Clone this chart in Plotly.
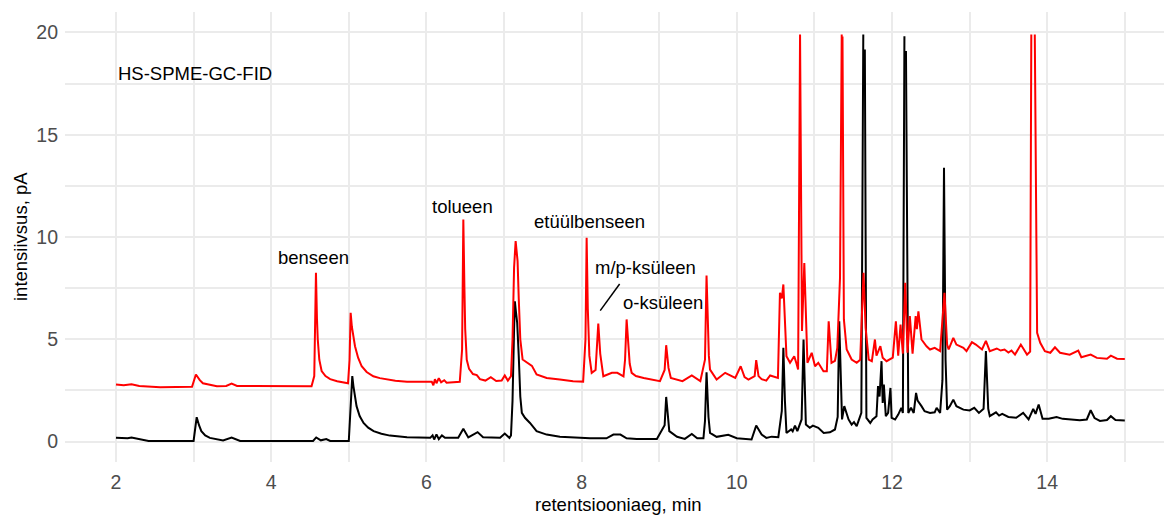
import plotly.graph_objects as go

# retention time (min) and intensity (pA) — red sample (upper trace)
red_x = [2.00, 2.10, 2.20, 2.30, 2.57, 2.80, 2.98, 3.03, 3.08, 3.12, 3.30, 3.42, 3.49, 3.56, 4.00, 4.52,
         4.555, 4.577, 4.59, 4.60, 4.62, 4.65, 4.70, 4.76, 4.85, 4.99, 5.01, 5.024, 5.04, 5.06, 5.08, 5.12,
         5.166, 5.23, 5.316, 5.40, 5.49, 5.60, 5.75,
         6.07, 6.09, 6.11, 6.13, 6.16, 6.19, 6.23, 6.26, 6.43, 6.46, 6.476, 6.49, 6.50, 6.52, 6.55, 6.60,
         6.65, 6.69, 6.76, 6.83, 6.90, 6.97, 7.01, 7.05, 7.09, 7.11, 7.13, 7.15, 7.165, 7.175, 7.19, 7.21,
         7.24, 7.31, 7.36, 7.42, 7.55, 7.72, 7.89, 8.02, 8.05, 8.065, 8.08, 8.10, 8.13, 8.18, 8.215, 8.24,
         8.28, 8.39, 8.46, 8.54, 8.56, 8.58, 8.60, 8.62, 8.645, 8.70, 8.80, 9.01, 9.07, 9.09, 9.12, 9.15,
         9.30, 9.42, 9.53, 9.59, 9.61, 9.625, 9.64, 9.655, 9.74, 9.85, 9.98, 10.05, 10.10, 10.15, 10.23,
         10.25, 10.28, 10.32, 10.38, 10.43, 10.53,
         10.556, 10.58, 10.60, 10.62, 10.64, 10.686, 10.74, 10.77, 10.79, 10.815, 10.84, 10.87, 10.91,
         10.965, 11.008, 11.05, 11.117, 11.16, 11.184, 11.22, 11.265, 11.295, 11.33, 11.352, None, 11.362,
         11.38, 11.416, 11.48, 11.545, 11.59, 11.633, 11.66, 11.70, 11.74, 11.78, 11.80, 11.85, 11.88,
         11.93, 12.01, 12.05, 12.08, 12.11, 12.14, 12.17, 12.20, 12.23, 12.265, 12.305, 12.32, 12.34,
         12.38, 12.445, 12.49, 12.55, 12.62, 12.676, 12.71, 12.73, 12.79, 12.83, 12.92, 12.96, 13.03,
         13.08, 13.16, 13.21, 13.26, 13.35, 13.40, 13.45, 13.50, 13.54, 13.585, 13.66, 13.74, 13.78,
         13.795, None, 13.84, 13.87, 13.91, 13.97, 14.04, 14.10, 14.165, 14.29, 14.40, 14.44, 14.56,
         14.64, 14.77, 14.82, 14.90, 15.00]
red_y = [2.79, 2.75, 2.80, 2.72, 2.66, 2.66, 2.68, 3.28, 3.00, 2.85, 2.70, 2.72, 2.83, 2.72, 2.70, 2.70,
         3.20, 8.25, 6.00, 5.00, 4.00, 3.45, 3.20, 3.05, 2.95, 2.85, 4.00, 6.29, 5.60, 5.00, 4.66, 4.10,
         3.68, 3.40, 3.19, 3.10, 3.03, 2.97, 2.92,
         2.92, 2.75, 3.05, 2.85, 3.10, 2.90, 3.00, 2.88, 2.92, 4.50, 10.86, 7.50, 5.50, 4.00, 3.55, 3.30,
         3.25, 3.05, 2.98, 3.15, 2.96, 2.98, 3.23, 2.98, 3.20, 5.00, 8.50, 9.80, 9.20, 8.82, 7.00, 5.00,
         4.01, 3.85, 3.70, 3.28, 3.11, 3.03, 2.95, 2.93, 5.00, 9.96, 6.50, 4.20, 3.36, 3.50, 5.77, 4.30,
         3.19, 3.36, 3.36, 3.19, 4.00, 5.97, 4.80, 3.80, 3.36, 3.20, 3.11, 2.95, 3.50, 4.71, 3.60, 3.11,
         2.95, 3.23, 2.95, 4.00, 8.12, 5.80, 4.20, 3.52, 3.03, 3.36, 3.11, 3.68, 3.15, 3.03, 3.20,
         3.98, 3.20, 3.05, 2.98, 3.23, 3.11,
         7.27, 7.00, 7.68, 6.00, 4.17, 3.85, 4.17, 3.80, 3.52, 19.90, 5.40, 8.73, 3.85,
         4.34, 3.68, 3.85, 3.44, 3.44, 5.88, 3.85, 3.95, 4.58, 8.00, 19.90, None, 19.80,
         5.97, 4.50, 4.01, 3.85, 4.00, 8.25, 5.56, 4.01, 3.93, 4.99, 4.20, 4.66, 4.10,
         3.93, 4.10, 5.88, 4.20, 5.72, 4.30, 7.76, 4.34, 6.13, 4.30, 6.13, 5.50, 6.37,
         4.99, 4.66, 4.50, 4.58, 4.42, 7.27, 4.74, 4.50, 5.07, 4.74, 4.58, 4.42, 4.86,
         4.74, 4.50, 4.92, 4.42, 4.55, 4.45, 4.50, 4.35, 4.45, 4.25, 4.74, 4.25, 4.40,
         19.90, None, 19.90, 5.32, 4.83, 4.42, 4.34, 4.61, 4.34, 4.25, 4.45, 4.12, 4.25,
         4.09, 4.05, 4.20, 4.05, 4.04]

# black sample (lower trace)
black_x = [2.00, 2.15, 2.20, 2.31, 2.42, 3.00, 3.04, 3.07, 3.10, 3.15, 3.21, 3.38, 3.49, 3.60, 4.54, 4.58,
           4.64, 4.71, 4.76, 5.00, 5.02, 5.045, 5.06, 5.08, 5.10, 5.14, 5.19, 5.25, 5.32, 5.42, 5.53, 5.75,
           6.05, 6.08, 6.10, 6.13, 6.16, 6.20, 6.24, 6.41, 6.476, 6.54, 6.66, 6.73, 6.95, 7.01, 7.07, 7.09,
           7.11, 7.13, 7.14, 7.155, 7.17, 7.19, 7.21, 7.23, 7.27, 7.335, 7.42, 7.55, 7.72, 8.11, 8.32, 8.41,
           8.50, 8.58, 8.71, 8.97, 9.07, 9.09, 9.11, 9.13, 9.23, 9.33, 9.42, 9.49, 9.57, 9.59, 9.61, 9.635,
           9.655, 9.74, 9.89, 10.00, 10.19, 10.25, 10.32, 10.38,
           10.45, 10.535, 10.58, 10.60, 10.62, 10.64, 10.70, 10.72, 10.75, 10.78, 10.835, 10.86, 10.89,
           10.94, 10.98, 11.05, 11.12, 11.20, 11.265, 11.30, 11.32, 11.356, 11.385, 11.44, 11.48, 11.51,
           11.545, 11.57, 11.605, 11.630, None, 11.65, 11.67, 11.72, 11.75, 11.80, 11.82, 11.84, 11.865,
           11.88, 11.895, 11.92, 11.95, 11.98, 11.995, 12.04, 12.08, 12.12, 12.14, 12.16, None, 12.18,
           12.21, 12.245, 12.28, 12.31, 12.33, 12.38, 12.42, 12.49, 12.55, 12.575, 12.62, 12.65, 12.67,
           12.69, 12.71, 12.745, 12.79, 12.83, 12.92, 13.00, 13.06, 13.12, 13.18, 13.21, 13.24, 13.26,
           13.34, 13.38, 13.42, 13.50, 13.60, 13.69, 13.76, 13.82, 13.85, 13.89, 13.94, 14.02, 14.12,
           14.20, 14.29, 14.42, 14.51, 14.56, 14.61, 14.68, 14.77, 14.82, 14.88, 15.00]
black_y = [0.18, 0.16, 0.20, 0.12, 0.03, 0.03, 1.19, 0.80, 0.51, 0.30, 0.18, 0.05, 0.20, 0.03, 0.03, 0.20,
           0.06, 0.12, 0.03, 0.03, 1.50, 3.20, 2.70, 2.10, 1.73, 1.25, 0.91, 0.68, 0.51, 0.38, 0.29, 0.21,
           0.18, 0.30, 0.10, 0.35, 0.12, 0.30, 0.18, 0.18, 0.62, 0.20, 0.46, 0.21, 0.18, 0.39, 0.18, 0.30,
           2.00, 5.50, 6.86, 6.30, 5.80, 4.20, 2.20, 1.40, 1.16, 0.91, 0.51, 0.34, 0.24, 0.16, 0.16, 0.34,
           0.34, 0.16, 0.13, 0.13, 0.80, 2.18, 1.20, 0.51, 0.23, 0.13, 0.37, 0.16, 0.16, 1.00, 3.39, 1.20,
           0.42, 0.23, 0.33, 0.16, 0.10, 0.78, 0.34, 0.18,
           0.24, 0.21, 1.50, 4.58, 2.00, 0.42, 0.59, 0.50, 0.78, 0.51, 1.08, 4.99, 0.83,
           0.67, 0.78, 0.67, 0.42, 0.45, 0.59, 1.20, 5.88, 1.08, 1.73, 1.08, 0.83, 0.95,
           0.75, 0.99, 1.40, 19.90, None, 19.17, 1.16, 0.91, 1.08, 1.24, 2.71, 2.20, 3.93,
           1.89, 2.79, 1.24, 1.40, 2.62, 1.16, 1.08, 1.32, 1.65, 1.40, 19.82, None, 19.09,
           1.40, 1.65, 1.40, 2.38, 2.00, 1.73, 1.48, 1.40, 1.43, 1.65, 1.40, 3.00, 13.38,
           4.00, 1.56, 1.73, 2.05, 1.73, 1.56, 1.52, 1.65, 1.40, 1.60, 4.42, 1.60, 1.24,
           1.43, 1.27, 1.35, 1.20, 1.16, 1.40, 1.08, 1.60, 1.35, 1.81, 1.11, 1.11, 1.20,
           1.11, 1.08, 1.04, 1.08, 1.53, 1.15, 1.01, 1.05, 1.24, 1.05, 1.03]

# peak labels
label_text = ["benseen", "tolueen", "etüülbenseen", "m/p-ksüleen", "o-ksüleen"]
label_x = [4.55, 6.47, 8.10, 8.82, 9.05]
label_y = [9.0, 11.5, 10.75, 8.5, 6.8]

x_ticks = [2, 4, 6, 8, 10, 12, 14]
y_ticks = [0, 5, 10, 15, 20]

FONT = "Liberation Sans, Arial, Helvetica, sans-serif"
GRID = "#EBEBEB"

fig = go.Figure()
fig.add_trace(go.Scatter(x=black_x, y=black_y, mode="lines",
                         line=dict(color="black", width=2), connectgaps=False, showlegend=False))
fig.add_trace(go.Scatter(x=red_x, y=red_y, mode="lines",
                         line=dict(color="#FF0000", width=2), connectgaps=False, showlegend=False))

for t, x, y in zip(label_text, label_x, label_y):
    fig.add_annotation(x=x, y=y, text=t, showarrow=False, xref="x", yref="y",
                       font=dict(family=FONT, size=18.5, color="black"))

fig.add_annotation(x=2, y=18, text="HS-SPME-GC-FID", showarrow=False, xref="x", yref="y",
                   xanchor="left", font=dict(family=FONT, size=18.5, color="black"))

# connector line for m/p-xylene label
fig.add_shape(type="line", x0=8.24, y0=6.4, x1=8.49, y1=7.7, xref="x", yref="y",
              line=dict(color="black", width=1.5))

# axis titles
fig.add_annotation(x=0.504, y=0, yshift=-42, xref="paper", yref="paper", text="retentsiooniaeg, min",
                   showarrow=False, yanchor="middle", font=dict(family=FONT, size=18.5, color="black"))
fig.add_annotation(x=0, xshift=-45, y=0.5, xref="paper", yref="paper", text="intensiivsus, pA",
                   showarrow=False, textangle=-90, xanchor="center",
                   font=dict(family=FONT, size=18.5, color="black"))

fig.update_layout(
    width=1164, height=515,
    margin=dict(l=65, r=0, t=12, b=53, autoexpand=False),
    plot_bgcolor="white", paper_bgcolor="white",
    font=dict(family=FONT),
    xaxis=dict(range=[1.343, 15.505], tickvals=x_ticks, showgrid=True, gridcolor=GRID, gridwidth=2,
               zeroline=False, showline=False, ticks="", ticklabelstandoff=6,
               tickfont=dict(family=FONT, size=19.5, color="#4D4D4D"),
               minor=dict(dtick=1, tick0=1, showgrid=True, gridcolor=GRID, gridwidth=1.6)),
    yaxis=dict(range=[-1, 21], tickvals=y_ticks, showgrid=True, gridcolor=GRID, gridwidth=2,
               zeroline=False, showline=False, ticks="", ticklabelstandoff=6,
               tickfont=dict(family=FONT, size=19.5, color="#4D4D4D"),
               minor=dict(dtick=2.5, tick0=0, showgrid=True, gridcolor=GRID, gridwidth=1.6)),
)

fig.write_html("out.html", config={"displayModeBar": False},
               post_script="document.body.style.margin='0';document.body.style.overflow='hidden';")
